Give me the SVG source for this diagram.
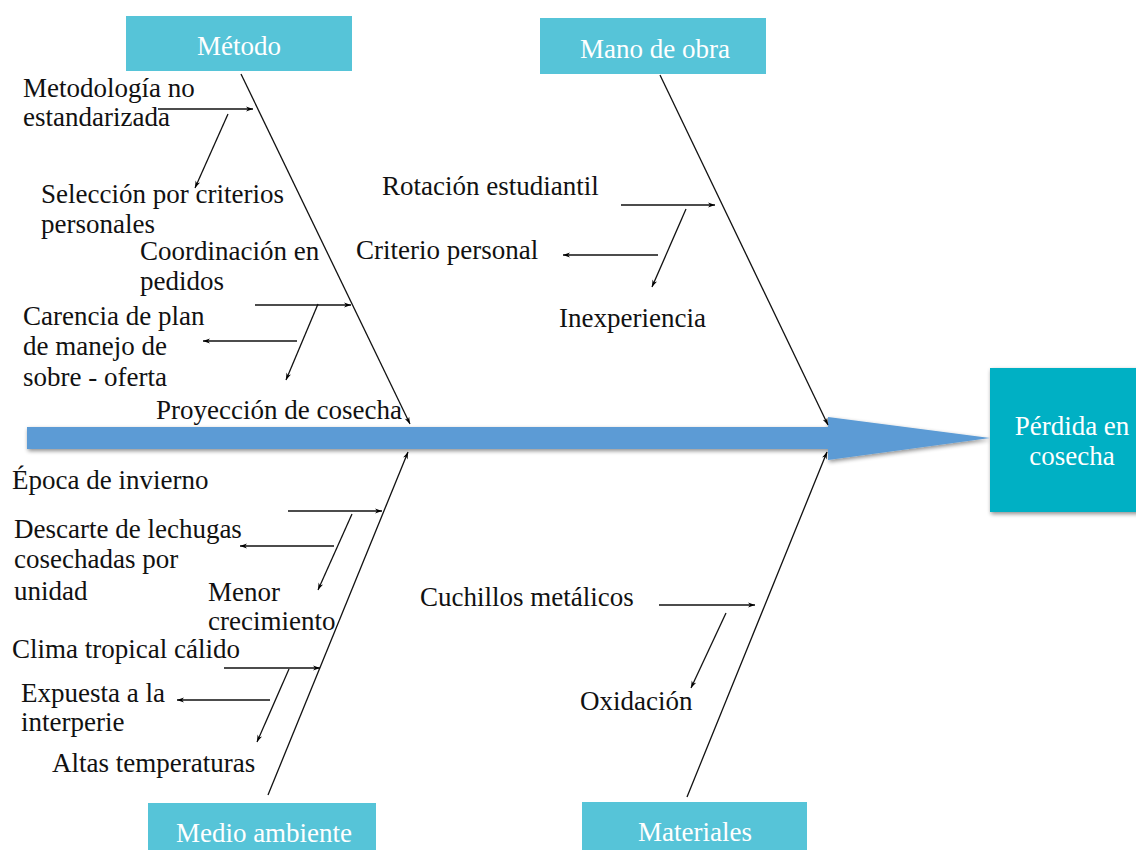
<svg xmlns="http://www.w3.org/2000/svg" width="1136" height="850" viewBox="0 0 1136 850">
<defs>
<marker id="ah" viewBox="0 0 10 10" refX="10" refY="5" markerWidth="9" markerHeight="7" markerUnits="userSpaceOnUse" orient="auto">
<path d="M0,1.5 L10,5 L0,8.5 L3,5 Z" fill="#000"/>
</marker>
<filter id="sh" x="-10%" y="-20%" width="120%" height="150%">
<feGaussianBlur in="SourceAlpha" stdDeviation="2"/>
<feOffset dx="1" dy="2" result="b"/>
<feComponentTransfer><feFuncA type="linear" slope="0.45"/></feComponentTransfer>
<feMerge><feMergeNode/><feMergeNode in="SourceGraphic"/></feMerge>
</filter>
<style>
.fbcause{font-family:'Liberation Serif','Times New Roman',serif;font-size:27px;fill:#111}
.fbhead{font-family:'Liberation Serif','Times New Roman',serif;font-size:27px;fill:#fff;text-anchor:middle}
.fbcat{fill:#56C4D8}
.fbln{stroke:#111;stroke-width:1.3;fill:none;marker-end:url(#ah)}
</style>
</defs>
<rect width="1136" height="850" fill="#fff"/>

<g id="spine">
<polygon points="27,427 828,427 828,417 990,438 828,460 828,449 27,449" fill="#5B9BD5" filter="url(#sh)"/>
</g>

<g id="effect">
<rect x="990" y="368" width="150" height="144" fill="#00B0C4" filter="url(#sh)"/>
<text class="fbhead" x="1072" y="435">Pérdida en</text>
<text class="fbhead" x="1072" y="465">cosecha</text>
</g>

<g id="metodo">
<rect class="fbcat" x="126" y="16" width="226" height="55"/>
<text class="fbhead" x="239" y="55">Método</text>
</g>
<g id="mano-de-obra">
<rect class="fbcat" x="540" y="18" width="226" height="56"/>
<text class="fbhead" x="655" y="58">Mano de obra</text>
</g>
<g id="medio-ambiente">
<rect class="fbcat" x="148" y="803" width="228" height="60"/>
<text class="fbhead" x="264" y="842">Medio ambiente</text>
</g>
<g id="materiales">
<rect class="fbcat" x="582" y="802" width="225" height="60"/>
<text class="fbhead" x="695" y="841">Materiales</text>
</g>

<g id="connectors">
<line class="fbln" x1="241" y1="74" x2="410" y2="424"/>
<line class="fbln" x1="660" y1="75" x2="828" y2="425"/>
<line class="fbln" x1="268" y1="795" x2="408" y2="452"/>
<line class="fbln" x1="687" y1="797" x2="827" y2="452"/>

<line class="fbln" x1="158" y1="109" x2="253" y2="109"/>
<line class="fbln" x1="228" y1="114" x2="195" y2="188"/>
<line class="fbln" x1="255" y1="305" x2="351" y2="305"/>
<line class="fbln" x1="297" y1="341" x2="203" y2="341"/>
<line class="fbln" x1="318" y1="304" x2="286" y2="380"/>

<line class="fbln" x1="621" y1="205" x2="715" y2="205"/>
<line class="fbln" x1="658" y1="255" x2="563" y2="255"/>
<line class="fbln" x1="686" y1="209" x2="652" y2="287"/>

<line class="fbln" x1="288" y1="511" x2="382" y2="511"/>
<line class="fbln" x1="334" y1="546" x2="240" y2="546"/>
<line class="fbln" x1="352" y1="514" x2="318" y2="590"/>
<line class="fbln" x1="224" y1="668" x2="320" y2="668"/>
<line class="fbln" x1="270" y1="700" x2="177" y2="700"/>
<line class="fbln" x1="289" y1="669" x2="257" y2="742"/>

<line class="fbln" x1="659" y1="605" x2="755" y2="605"/>
<line class="fbln" x1="726" y1="613" x2="691" y2="688"/>
</g>

<g id="causes-metodo">
<text class="fbcause" x="23" y="97">Metodología no</text>
<text class="fbcause" x="23" y="126">estandarizada</text>
<text class="fbcause" x="41" y="203">Selección por criterios</text>
<text class="fbcause" x="41" y="233">personales</text>
<text class="fbcause" x="140" y="260">Coordinación en</text>
<text class="fbcause" x="140" y="290">pedidos</text>
<text class="fbcause" x="23" y="325">Carencia de plan</text>
<text class="fbcause" x="23" y="355">de manejo de</text>
<text class="fbcause" x="23" y="386">sobre - oferta</text>
<text class="fbcause" x="156" y="419">Proyección de cosecha</text>
</g>
<g id="causes-mano">
<text class="fbcause" x="382" y="195">Rotación estudiantil</text>
<text class="fbcause" x="356" y="259">Criterio personal</text>
<text class="fbcause" x="559" y="327">Inexperiencia</text>
</g>
<g id="causes-medio">
<text class="fbcause" x="12" y="489">Época de invierno</text>
<text class="fbcause" x="14" y="538">Descarte de lechugas</text>
<text class="fbcause" x="14" y="568">cosechadas por</text>
<text class="fbcause" x="14" y="600">unidad</text>
<text class="fbcause" x="208" y="601">Menor</text>
<text class="fbcause" x="208" y="630">crecimiento</text>
<text class="fbcause" x="12" y="658">Clima tropical cálido</text>
<text class="fbcause" x="21" y="702">Expuesta a la</text>
<text class="fbcause" x="21" y="731">interperie</text>
<text class="fbcause" x="52" y="772">Altas temperaturas</text>
</g>
<g id="causes-materiales">
<text class="fbcause" x="420" y="606">Cuchillos metálicos</text>
<text class="fbcause" x="580" y="710">Oxidación</text>
</g>
</svg>
